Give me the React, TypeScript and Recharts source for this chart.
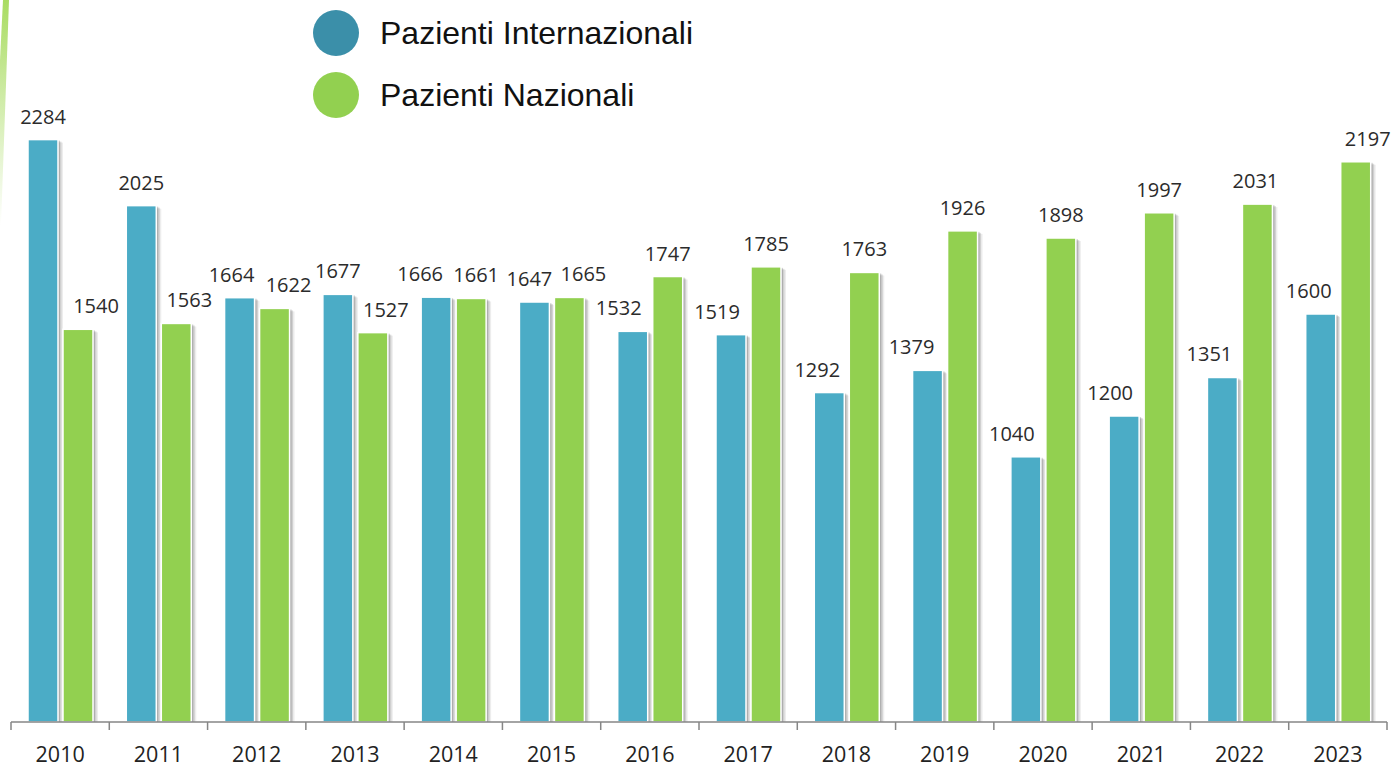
import React from 'react';
import { BarChart, Bar, XAxis, YAxis, LabelList } from 'recharts';

const years = ['2010', '2011', '2012', '2013', '2014', '2015', '2016', '2017', '2018', '2019', '2020', '2021', '2022', '2023'];
const internazionali = [2284, 2025, 1664, 1677, 1666, 1647, 1532, 1519, 1292, 1379, 1040, 1200, 1351, 1600];
const nazionali = [1540, 1563, 1622, 1527, 1661, 1665, 1747, 1785, 1763, 1926, 1898, 1997, 2031, 2197];

// horizontal nudges of the value labels, as placed in the original
const blueLabelShift = [0, 0, -8, 0, -16, -5, -14, -14, -12, -16, -14, -14, -13, -12];
const greenLabelShift = [18, 13, 14, 13, 5, 14, 0, 0, 0, 0, 0, 0, -2, 12];

const data = years.map((year, i) => ({
    year,
    internazionali: internazionali[i],
    nazionali: nazionali[i],
}));

const W = 1392;
const H = 767;
const margin = { top: 8, right: 5, left: 11, bottom: 0 };
const band = (W - margin.left - margin.right) / years.length;

const BLUE = '#4bacc6';
const GREEN = '#92d050';
const FONT = '"Open Sans", "DejaVu Sans", sans-serif';

const ShadowBar = (props: any) => {
    const { x, y, width, height, fill } = props;
    if (!height || height <= 0) return null;
    return (
        <g>
            <rect x={x + 5} y={y + 3} width={width} height={height - 3} fill="#000" opacity={0.07} />
            <rect x={x + 3.5} y={y + 2} width={width} height={height - 2} fill="#000" opacity={0.12} />
            <rect x={x + 2} y={y + 1} width={width} height={height - 1} fill="#000" opacity={0.16} />
            <rect x={x} y={y} width={width} height={height} fill={fill} stroke="#fff" strokeWidth={1.5} />
        </g>
    );
};

const makeLabel = (shifts: number[]) => (props: any) => {
    const { x, y, width, value, index } = props;
    return (
        <text
            x={x + width / 2 + (shifts[index] || 0)}
            y={y - 16}
            textAnchor="middle"
            fontSize={20}
            fill="#2b2b2b"
            fontFamily={FONT}
        >
            {value}
        </text>
    );
};

const YearTick = (props: any) => {
    const { x, y, payload, index } = props;
    const half = band / 2;
    const y0 = y - 8;
    return (
        <g>
            <line x1={x - half} y1={y0} x2={x - half} y2={y0 + 8} stroke="#868686" strokeWidth={1.5} />
            {index === years.length - 1 && (
                <line x1={x + half} y1={y0} x2={x + half} y2={y0 + 8} stroke="#868686" strokeWidth={1.5} />
            )}
            <text x={x} y={y0 + 40} textAnchor="middle" fontSize={21.5} fill="#222" fontFamily={FONT}>
                {payload.value}
            </text>
        </g>
    );
};

const legendItems = [
    { label: 'Pazienti Internazionali', color: '#3b8fa9' },
    { label: 'Pazienti Nazionali', color: GREEN },
];

export default function App() {
    return (
        <div style={{ position: 'absolute', left: 0, top: 0, width: W, height: H, background: '#fff', overflow: 'hidden' }}>
            <svg width={40} height={230} style={{ position: 'absolute', left: 0, top: 0 }}>
                <defs>
                    <linearGradient id="stripe" x1="0" y1="0" x2="0" y2="1">
                        <stop offset="0%" stopColor="#a9dc62" />
                        <stop offset="100%" stopColor="#a9dc62" stopOpacity={0} />
                    </linearGradient>
                </defs>
                <polygon points="3,0 9,0 1,225 0,225 0,60" fill="url(#stripe)" />
            </svg>
            <BarChart width={W} height={H} data={data} margin={margin} barGap={5} barSize={30}>
                <XAxis
                    dataKey="year"
                    height={45}
                    axisLine={{ stroke: '#868686', strokeWidth: 1.5 }}
                    tickLine={false}
                    tick={<YearTick />}
                    interval={0}
                />
                <YAxis hide domain={[0, 2800]} />
                <Bar dataKey="internazionali" fill={BLUE} shape={<ShadowBar />} isAnimationActive={false}>
                    <LabelList dataKey="internazionali" content={makeLabel(blueLabelShift)} />
                </Bar>
                <Bar dataKey="nazionali" fill={GREEN} shape={<ShadowBar />} isAnimationActive={false}>
                    <LabelList dataKey="nazionali" content={makeLabel(greenLabelShift)} />
                </Bar>
            </BarChart>
            <div style={{ position: 'absolute', left: 313, top: 10, fontFamily: '"Liberation Sans", Arial, sans-serif' }}>
                {legendItems.map((item, i) => (
                    <div key={item.label} style={{ display: 'flex', alignItems: 'center', height: 46, marginBottom: i === 0 ? 16 : 0 }}>
                        <div style={{ width: 46, height: 46, borderRadius: '50%', background: item.color }} />
                        <span style={{ marginLeft: 21, fontSize: 32, color: '#111', lineHeight: '46px' }}>{item.label}</span>
                    </div>
                ))}
            </div>
        </div>
    );
}
